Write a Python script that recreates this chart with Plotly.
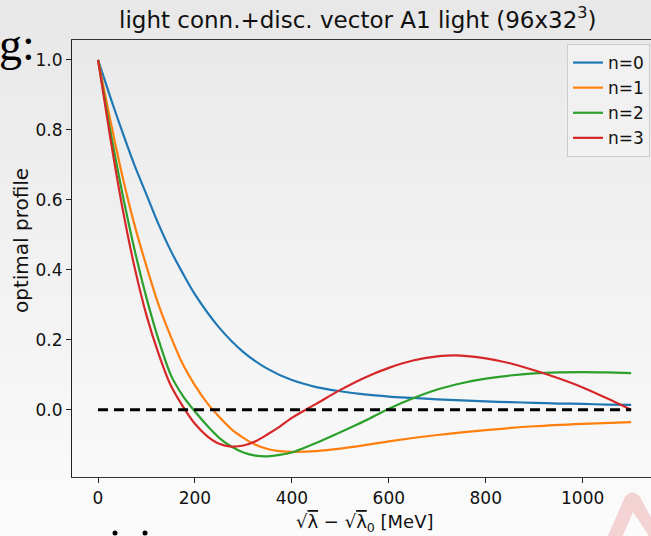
import plotly.graph_objects as go

# ---------------- data ----------------
x_n0 = [0, 25, 50, 75, 100, 125, 150, 175, 200, 250, 300, 350, 400, 450, 500,
        550, 600, 650, 700, 750, 800, 850, 900, 950, 1000, 1050, 1100]
y_n0 = [1.0, 0.895, 0.795, 0.70, 0.615, 0.53, 0.455, 0.39, 0.33, 0.235, 0.165, 0.117,
        0.085, 0.065, 0.053, 0.044, 0.038, 0.034, 0.030, 0.027, 0.024, 0.022,
        0.020, 0.018, 0.017, 0.015, 0.014]

x_n1 = [0, 25, 50, 75, 100, 125, 150, 175, 200, 225, 250, 275, 300, 325, 350,
        375, 400, 450, 500, 550, 600, 700, 800, 900, 1000, 1100]
y_n1 = [1.0, 0.83, 0.67, 0.53, 0.41, 0.30, 0.21, 0.13, 0.07, 0.02, -0.02, -0.055,
        -0.08, -0.10, -0.112, -0.118, -0.12, -0.118, -0.111, -0.101, -0.090,
        -0.072, -0.058, -0.047, -0.040, -0.035]

x_n2 = [0, 25, 50, 75, 100, 125, 150, 175, 200, 225, 250, 275, 300, 325, 350,
        375, 400, 450, 500, 550, 600, 650, 700, 750, 800, 850, 900, 950, 1000,
        1050, 1100]
y_n2 = [1.0, 0.80, 0.62, 0.46, 0.32, 0.20, 0.10, 0.04, -0.005, -0.045, -0.08,
        -0.105, -0.122, -0.131, -0.133, -0.129, -0.122, -0.095, -0.064, -0.032,
        0.003, 0.033, 0.058, 0.076, 0.089, 0.098, 0.104, 0.107, 0.108, 0.107, 0.105]

x_n3 = [0, 25, 50, 75, 100, 125, 150, 175, 200, 225, 250, 275, 300, 325, 350,
        375, 400, 450, 500, 550, 600, 650, 700, 720, 750, 800, 850, 900, 950,
        1000, 1050, 1100]
y_n3 = [1.0, 0.78, 0.58, 0.41, 0.27, 0.16, 0.07, 0.01, -0.04, -0.075, -0.097,
        -0.105, -0.102, -0.09, -0.07, -0.048, -0.023, 0.017, 0.057, 0.092, 0.120,
        0.141, 0.153, 0.155, 0.155, 0.147, 0.133, 0.113, 0.090, 0.064, 0.033, 0.0]

series_names = ["n=0", "n=1", "n=2", "n=3"]
series_x = [x_n0, x_n1, x_n2, x_n3]
series_y = [y_n0, y_n1, y_n2, y_n3]
series_colors = ["#1f77b4", "#ff7f0e", "#2ca02c", "#d62728"]

zero_x = [0, 1100]
zero_y = [0, 0]

x_ticks = [0, 200, 400, 600, 800, 1000]
y_ticks = [0.0, 0.2, 0.4, 0.6, 0.8, 1.0]

title_text = "light conn.+disc. vector A1 light (96x32<sup>3</sup>)"
x_title = "√<span style='text-decoration:overline'>λ</span> − √<span style='text-decoration:overline'>λ</span><sub>0</sub> [MeV]"
y_title = "optimal profile"

# ---------------- layout helpers ----------------
W, H = 651, 536
L, R, T, B = 72, 0, 40, 59
PW, PH = W - L - R, H - T - B


def px(xp):
    return (xp - L) / PW


def py(yp):
    return (H - B - yp) / PH


FONT = "DejaVu Sans"

fig = go.Figure()

for name, xs, ys, col in zip(series_names, series_x, series_y, series_colors):
    fig.add_trace(go.Scatter(x=xs, y=ys, mode="lines", name=name,
                             line=dict(color=col, width=2.2, shape="spline",
                                       smoothing=0.8)))

fig.add_trace(go.Scatter(x=zero_x, y=zero_y, mode="lines", showlegend=False,
                         line=dict(color="black", width=3, dash="10px,6px")))

# background gradient of the slide
shapes = []
nb = 27
for i in range(nb):
    t = i / (nb - 1)
    c = int(round(232 + (251 - 232) * t))
    y0 = i * H / nb
    y1 = (i + 1) * H / nb + 1
    shapes.append(dict(type="rect", xref="paper", yref="paper", layer="below",
                       x0=px(0), x1=px(W), y0=py(y1), y1=py(y0),
                       fillcolor=f"rgb({c},{c},{c})", line=dict(width=0)))

# partial logo bottom right
def P(xp, yp):
    return f"{px(xp):.5f},{py(yp):.5f}"

logo_path = ("M " + P(606, 540) + " L " + P(625, 497) + " Q " + P(632, 488) + " "
             + P(640, 497) + " L " + P(655, 525) + " L " + P(655, 545) + " L "
             + P(633, 512) + " L " + P(621, 540) + " Z")
shapes.append(dict(type="path", xref="paper", yref="paper", layer="below",
                   path=logo_path, fillcolor="rgba(225,120,120,0.3)",
                   line=dict(width=0)))

# dots of cut text at bottom
for xd in (115, 145):
    shapes.append(dict(type="circle", xref="paper", yref="paper",
                       x0=px(xd - 2.5), x1=px(xd + 2.5), y0=py(535.5), y1=py(530.5),
                       fillcolor="black", line=dict(width=0)))

annotations = [
    dict(text=title_text, x=px(358), y=py(18), xref="paper", yref="paper",
         showarrow=False, xanchor="center", yanchor="middle",
         font=dict(family=FONT, size=23, color="#111")),
    dict(text=y_title, x=px(21), y=py(241), xref="paper", yref="paper",
         showarrow=False, textangle=-90, xanchor="center", yanchor="middle",
         font=dict(family=FONT, size=20, color="#111")),
    dict(text=x_title, x=px(365), y=py(523), xref="paper", yref="paper",
         showarrow=False, xanchor="center", yanchor="middle",
         font=dict(family=FONT, size=18, color="#111")),
    dict(text="g:", x=px(-3), y=py(45), xref="paper", yref="paper",
         showarrow=False, xanchor="left", yanchor="middle",
         font=dict(family="Liberation Serif", size=46, color="black")),
]

fig.update_layout(
    width=W, height=H, autosize=False,
    margin=dict(l=L, r=R, t=T, b=B, pad=0),
    paper_bgcolor="#f0f0f0", plot_bgcolor="rgba(0,0,0,0)",
    shapes=shapes, annotations=annotations,
    showlegend=True,
    legend=dict(x=px(650), y=py(44), xanchor="right", yanchor="top",
                bgcolor="rgba(242,242,242,0.85)", bordercolor="#cccccc",
                borderwidth=1, font=dict(family=FONT, size=17, color="#111"),
                tracegroupgap=0, itemwidth=30),
    xaxis=dict(range=[-53.7, 1141], tickvals=x_ticks, ticks="outside", ticklen=5,
               tickcolor="#222", showgrid=False, zeroline=False, showline=True,
               linecolor="#333", linewidth=1.2, mirror=True,
               tickfont=dict(family=FONT, size=17, color="#111")),
    yaxis=dict(range=[-0.192, 1.057], tickvals=y_ticks, tickformat=".1f",
               ticks="outside", ticklen=5, tickcolor="#222", showgrid=False,
               zeroline=False, showline=True, linecolor="#222", linewidth=1.2,
               tickfont=dict(family=FONT, size=17, color="#111")),
)

fig.write_html("out.html")
